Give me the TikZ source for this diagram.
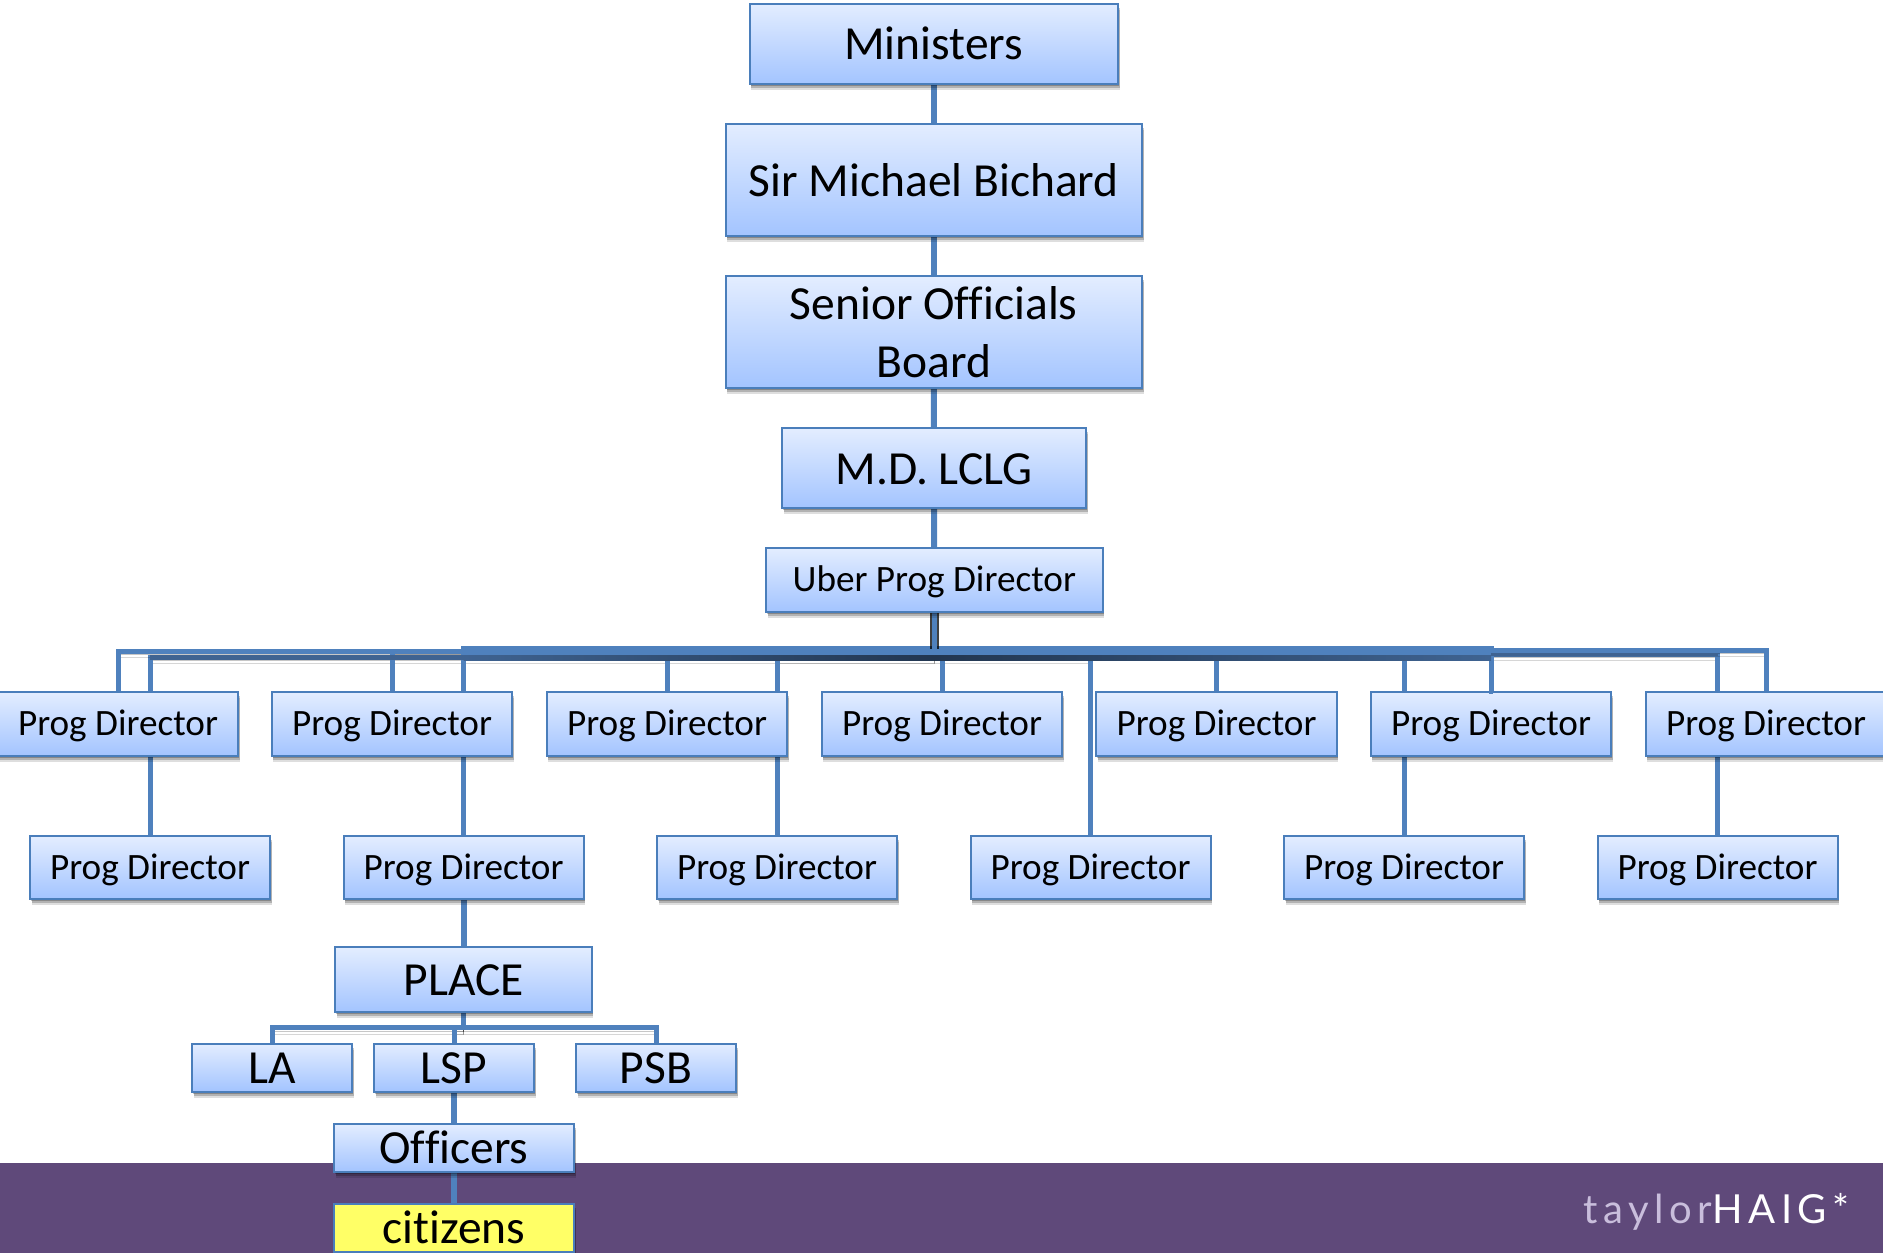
\documentclass[tikz,border=0pt]{standalone}
\usepackage{fontspec}
\setmainfont[Ligatures=NoCommon]{Carlito}
\newfontfamily\logofont[LetterSpace=14]{Lato}
\definecolor{conn}{HTML}{4F81BD}
\definecolor{edge}{HTML}{4A7EBB}
\definecolor{gtop}{HTML}{E3EDFF}
\definecolor{gbot}{HTML}{A3C4FF}
\definecolor{band}{HTML}{5F497A}
\definecolor{cit}{HTML}{FFFF66}
\definecolor{logolight}{HTML}{C9BEDC}
\definecolor{slate}{HTML}{3F6391}
\definecolor{deep}{HTML}{223650}
\pgfdeclarelayer{bandlayer}
\pgfdeclarelayer{connlayer}
\pgfsetlayers{bandlayer,connlayer,main}
\tikzset{
  softshadow/.style={
    preaction={fill=black,fill opacity=.24,transform canvas={xshift=1pt,yshift=-2pt}},
    preaction={fill=black,fill opacity=.20,transform canvas={xshift=1.5pt,yshift=-4pt}},
    preaction={fill=black,fill opacity=.13,transform canvas={xshift=1.5pt,yshift=-6pt}}},
  basebox/.style={rectangle,draw=edge,line width=2pt,inner sep=0pt,outer sep=1pt,
    text=black,softshadow},
  orgbox/.style={basebox,top color=gtop,bottom color=gbot},
  bigbox/.style={orgbox,font=\fontsize{47.5}{57}\selectfont,text height=32pt,text depth=0pt},
  progbox/.style={orgbox,font=\fontsize{37.2}{44}\selectfont,text height=23pt,text depth=0pt},
  rowone/.style={progbox,minimum width=240.5pt,minimum height=64pt},
  rowtwo/.style={progbox,minimum width=240pt,minimum height=63pt},
  link/.style={conn,line width=6pt},
  tree/.style={conn,line width=5pt,line join=miter,
    preaction={draw=black,draw opacity=.22,transform canvas={yshift=-3pt}},
    preaction={draw=black,draw opacity=.16,transform canvas={yshift=-6pt}}},
}
\begin{document}
\begin{tikzpicture}[x=1pt,y=-1pt]
\useasboundingbox (0,0) rectangle (1883,1253);
\begin{pgfonlayer}{bandlayer}
  \fill[band] (0,1162.5) rectangle (1883,1253);
\end{pgfonlayer}

\node[bigbox,minimum width=368.5pt,minimum height=80.5pt] (min) at (933.75,43.75) {Ministers};
\node[bigbox,minimum width=416.5pt,minimum height=112pt] (sir) at (933.75,180) {Sir Michael Bichard};
\node[orgbox,minimum width=416.5pt,minimum height=112pt,align=center,
      font=\fontsize{47.5}{57.6}\selectfont] (sen) at (933.75,332) {Senior Officials\\Board};
\node[bigbox,minimum width=304pt,minimum height=80pt] (md) at (934,468) {M.D. LCLG};
\node[progbox,minimum width=336.5pt,minimum height=64pt] (uber) at (934.25,580) {Uber Prog Director};

\node[rowone] (p1) at (118,724) {Prog Director};
\node[rowone] (p2) at (392,724) {Prog Director};
\node[rowone] (p3) at (667,724) {Prog Director};
\node[rowone] (p4) at (942,724) {Prog Director};
\node[rowone] (p5) at (1216.5,724) {Prog Director};
\node[rowone] (p6) at (1491,724) {Prog Director};
\node[rowone] (p7) at (1766,724) {Prog Director};

\node[rowtwo] (q1) at (150,867.5) {Prog Director};
\node[rowtwo] (q2) at (463.5,867.5) {Prog Director};
\node[rowtwo] (q3) at (777,867.5) {Prog Director};
\node[rowtwo] (q4) at (1090.5,867.5) {Prog Director};
\node[rowtwo] (q5) at (1404,867.5) {Prog Director};
\node[rowtwo] (q6) at (1717.5,867.5) {Prog Director};

\node[bigbox,minimum width=256.7pt,minimum height=65pt] (place) at (463.6,979.8) {PLACE};
\node[bigbox,minimum width=160pt,minimum height=48pt] (la) at (272,1067.5) {LA};
\node[bigbox,minimum width=160pt,minimum height=48pt] (lsp) at (454,1067.5) {LSP};
\node[bigbox,minimum width=160pt,minimum height=48pt] (psb) at (656,1067.5) {PSB};
\node[bigbox,minimum width=240pt,minimum height=48.3pt] (off) at (454,1147.8) {Officers};
\node[basebox,fill=cit,minimum width=240pt,minimum height=48pt,text height=30pt,text depth=0pt,
      font=\fontsize{47.5}{57}\selectfont] (citz) at (454,1228) {citizens};

\node[anchor=base west,inner sep=0pt,font=\logofont\fontsize{40}{50}\selectfont] (logo) at (1583,1223)
  {\textcolor{logolight}{taylor}\textcolor{white}{HAIG*}};

\coordinate (busA) at (0,651.5);
\coordinate (busB) at (0,657.5);
\coordinate (busC) at (0,648.5);
\coordinate (busD) at (0,654);
\coordinate (busE) at (0,650);
\coordinate (busT) at (0,650.5);
\coordinate (busP) at (0,1027.7);

\begin{pgfonlayer}{connlayer}
  \draw[link] (min) -- (sir);
  \draw[link] (sir) -- (sen);
  \draw[link] (sen) -- (md);
  \draw[link] (md) -- (uber);
  \draw[link] (place.north -| q2) -- (q2.south);
  \draw[link] (lsp) -- (off);
  \draw[link] (off) -- (citz);

  \draw[tree] (uber.south) |- (q1.north |- busB) -- (q1.north);
  \draw[tree] (uber.south) |- (q3.north |- busB) -- (q3.north);
  \draw[tree] (uber.south) |- (q4.north |- busB) -- (q4.north);
  \draw[tree] (uber.south) |- (p3.north |- busD) -- (p3.north);
  \draw[tree] (uber.south) |- (p5.north |- busD) -- (p5.north);
  \draw[tree] (uber.south) |- (q5.north |- busD) -- (q5.north);
  \draw[tree] (uber.south) |- (q6.north |- busD) -- (q6.north);
  \draw[tree] (uber.south) |- (p1.north |- busA) -- (p1.north);
  \draw[tree] (uber.south) |- (p2.north |- busA) -- (p2.north);
  \draw[tree] (uber.south) |- (p4.north |- busA) -- (p4.north);
  \draw[tree] (uber.south) |- (p7.north |- busE) -- (p7.north);
  \draw[tree] (uber.south) |- (q2.north |- busC) -- (q2.north);
  \draw[tree] (uber.south) |- (p6.north |- busC) -- (p6.north);
  % merged, overlapping strokes of the bus: dark lower edge, flat blue upper part
  \draw[slate,line width=5pt] (q1.north |- busB) -- (q2.north |- busB);
  \draw[slate,line width=3pt] (p6.north |- busD) -- (q6.north |- busD);
  \shade[left color=slate,right color=deep] ([yshift=-2.5pt]q2.north |- busB) rectangle ([yshift=2.5pt]uber.south |- busB);
  \shade[left color=deep,right color=slate] ([yshift=-2.5pt]uber.south |- busB) rectangle ([yshift=2.5pt]p6.north |- busB);
  \draw[conn,line width=9pt] (q2.north |- busT) -- (p6.north |- busT);
  \draw[black,opacity=.75,line width=9pt] (uber.south) -- (uber.south |- busC);
  \draw[conn,line width=5pt] (uber.south) -- (uber.south |- busT);

  \draw[tree] (place.south) |- (la.north |- busP) -- (la.north);
  \draw[tree] (place.south) |- (lsp.north |- busP) -- (lsp.north);
  \draw[tree] (place.south) |- (psb.north |- busP) -- (psb.north);
\end{pgfonlayer}
\draw[conn,line width=4.4pt] (p6.north) -- ++(0,3);
\end{tikzpicture}
\end{document}
